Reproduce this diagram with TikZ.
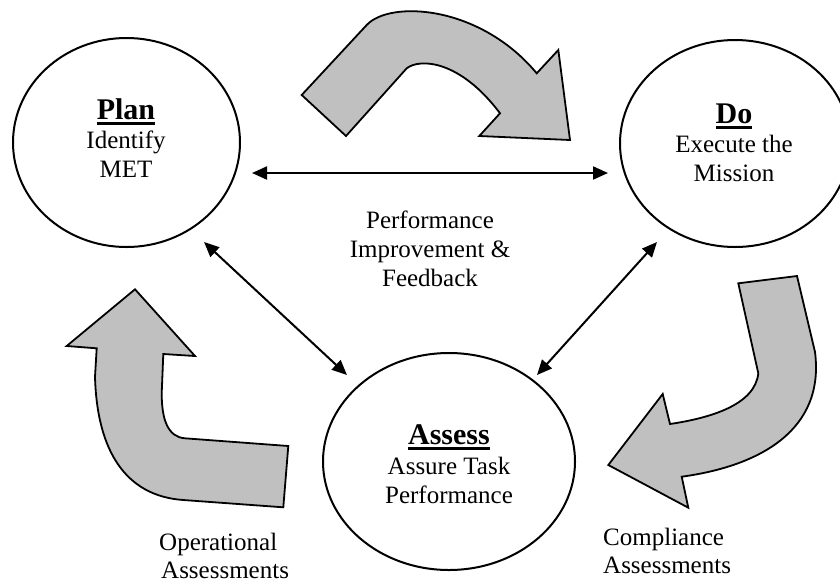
\documentclass[tikz,border=0pt]{standalone}
\usepackage{fontspec}
\setmainfont{Liberation Serif}
\usetikzlibrary{shapes.geometric,arrows.meta}
\definecolor{arrowgray}{RGB}{192,192,192}
\newcommand\ulhead[1]{\sbox0{#1}\rlap{\rule[-5.5pt]{\wd0}{3pt}}\usebox0}
\tikzset{
  ell/.style={draw, ellipse, line width=2pt, inner sep=0pt},
  body/.style={font=\fontsize{25}{29}\selectfont, inner sep=0pt, anchor=base},
  bodyw/.style={font=\fontsize{25}{29}\selectfont, inner sep=0pt, anchor=base west},
  head/.style={font=\fontsize{30}{36}\selectfont\bfseries, inner sep=0pt, anchor=base},
  link/.style={line width=2pt, {Triangle[length=15pt,width=13pt]}-{Triangle[length=15pt,width=13pt]}},
  bigarrow/.style={draw, line width=1.8pt, fill=arrowgray, line join=miter}
}
\begin{document}
\begin{tikzpicture}[x=1pt,y=-1pt]
\path[use as bounding box] (0,0) rectangle (840,582);

% ellipses
\node[ell, minimum width=227pt, minimum height=209pt] (plan) at (126.5,142.5) {};
\node[ell, minimum width=230pt, minimum height=207pt] (do) at (735,143.5) {};
\node[ell, minimum width=252pt, minimum height=217pt] (assess) at (449,461.5) {};

% ellipse texts
\node[head] (planh) at (126,119) {\ulhead{Plan}};
\node[body] (plan1) at (126,148) {Identify};
\node[body] (plan2) at (126,177) {MET};

\node[head] (doh) at (734,123) {\ulhead{Do}};
\node[body] (do1) at (734,152) {Execute the};
\node[body] (do2) at (734,181) {Mission};

\node[head] (assessh) at (449,444) {\ulhead{Assess}};
\node[body] (assess1) at (449,474) {Assure Task};
\node[body] (assess2) at (449,503) {Performance};

% middle label
\node[body] (mid1) at (430,228) {Performance};
\node[body] (mid2) at (430,257) {Improvement \&};
\node[body] (mid3) at (430,286) {Feedback};

% bottom labels
\node[bodyw] (op1) at (159,550) {Operational};
\node[bodyw] (op2) at (161,578) {Assessments};
\node[bodyw] (co1) at (603,545) {Compliance};
\node[bodyw] (co2) at (603,573) {Assessments};

% connector end points
\coordinate (pd1) at (252,173);
\coordinate (pd2) at (608,173);
\coordinate (pa1) at (204,242);
\coordinate (pa2) at (347,375);
\coordinate (da1) at (657,242);
\coordinate (da2) at (537,375);

\draw[link] (pd1) -- (pd2);
\draw[link] (pa1) -- (pa2);
\draw[link] (da1) -- (da2);

% block arrows
\draw[bigarrow] (301.7,95) -- (346,136) -- (406.7,68.3)
  .. controls (420,58) and (460,60) .. (500,113.3)
  -- (479.3,136) -- (570,140) -- (558.3,50) -- (536.7,73.3)
  .. controls (480,5) and (390,0) .. (366.7,25) -- cycle;

\draw[bigarrow] (738.3,283.3) -- (797,276) -- (815,352)
  .. controls (825,430) and (760,466) .. (681.7,476.7)
  -- (688.3,507.7) -- (608.3,465) -- (662.7,394) -- (670,424)
  .. controls (710,418) and (755,405) .. (758.3,373.3) -- cycle;

\draw[bigarrow] (135,289.3) -- (195,356) -- (163.3,354) -- (161.7,393.3)
  .. controls (161.7,420) and (168,437) .. (185,438.3)
  -- (288.3,446) -- (283.3,507.3) -- (183.3,500)
  .. controls (125,496) and (97,450) .. (95,376.7)
  -- (96.7,348.3) -- (66.7,346) -- cycle;
\end{tikzpicture}
\end{document}
